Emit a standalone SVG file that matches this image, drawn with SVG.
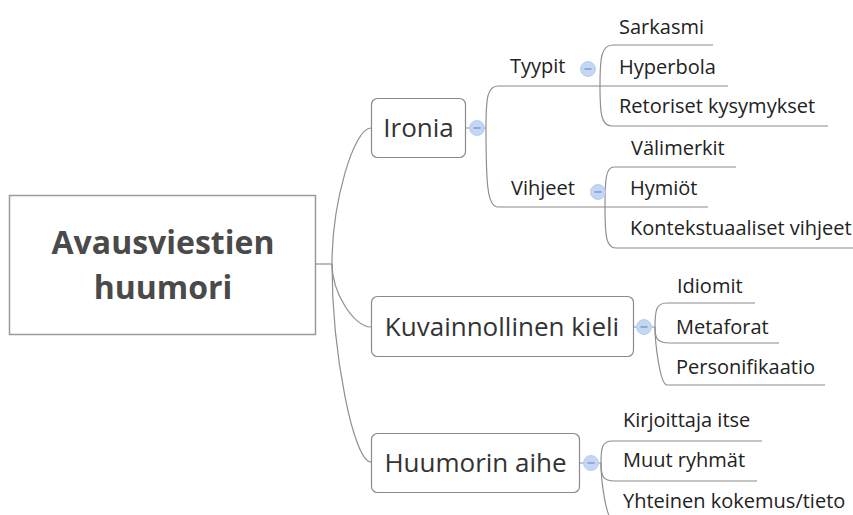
<svg xmlns="http://www.w3.org/2000/svg" width="853" height="515" viewBox="0 0 853 515">
  <style>
    .root-box { fill: #ffffff; stroke: #9a9a9a; stroke-width: 1.5; }
    .root-text { font-family: "Open Sans", "Liberation Sans", sans-serif; font-size: 32px; font-weight: bold; fill: #4a4a4a; text-anchor: middle; }
    .box { fill: #ffffff; stroke: #8a8a8a; stroke-width: 1.2; }
    .main-text { font-family: "Open Sans", "Liberation Sans", sans-serif; font-size: 26px; fill: #333333; text-anchor: middle; }
    .label { font-family: "Open Sans", "Liberation Sans", sans-serif; font-size: 20px; fill: #222222; }
    .under { fill: none; stroke: #8a8a8a; stroke-width: 1.2; }
    .link { fill: none; stroke: #8f8f8f; stroke-width: 1.2; }
    .fold circle { fill: #c2d6f6; stroke: #adc6ef; stroke-width: 0.8; }
    .fold line { stroke: #7d8ba3; stroke-width: 1.2; }
  </style>
  <defs>
    <g id="fold-btn" class="fold">
      <circle cx="0" cy="0" r="7.5"/>
      <line x1="-3.5" y1="0" x2="3.5" y2="0"/>
    </g>
  </defs>

  <!-- connectors -->
  <g id="connectors">
    <!-- root to main topics -->
    <path class="link" d="M316,264 H332"/>
    <path class="link" d="M332,264 C332,203 353.5,128 371,128"/>
    <path class="link" d="M332,264 C332,292 353.5,327 371,327"/>
    <path class="link" d="M332,264 C332,353 353.5,462 371,462"/>

    <!-- Ironia -->
    <path class="link" d="M466,128 H470 M484,128 H486"/>
    <path class="link" d="M486,128 C486,98.6 487.2,86 498,86"/>
    <path class="link" d="M486,128 C486,183.3 487.2,207 498,207"/>

    <!-- Tyypit -->
    <path class="link" d="M600,86 C600,57.3 601.3,45 613,45"/>
    <path class="link" d="M600,86 C600,114 601.2,126 612,126"/>

    <!-- Vihjeet -->
    <path class="link" d="M605,207 C605,179 605.9,167 614,167"/>
    <path class="link" d="M605,207 C605,235.7 606.1,248 616,248"/>

    <!-- Kuvainnollinen kieli -->
    <path class="link" d="M633.5,327 H637 M651,327 H655"/>
    <path class="link" d="M655,327 C655,310.2 656.2,303 667,303"/>
    <path class="link" d="M655,327 C655,338 656.5,343 670,343"/>
    <path class="link" d="M655,327 C655,341.5 659.8,385 667,385"/>

    <!-- Huumorin aihe -->
    <path class="link" d="M579.5,463 H584 M598,463 H601"/>
    <path class="link" d="M601,463 C601,447.6 602.1,441 612,441"/>
    <path class="link" d="M601,463 C601,475.6 602.4,481 615,481"/>
    <path class="link" d="M601,463 C601,480 606,521 614,521"/>
  </g>

  <!-- central topic -->
  <g id="root">
    <rect class="root-box" x="9.5" y="195.5" width="306" height="139"/>
    <text class="root-text" x="163" y="254">Avausviestien</text>
    <text class="root-text" x="163" y="299">huumori</text>
  </g>

  <!-- main topics -->
  <g id="ironia">
    <rect class="box" x="371.5" y="98.5" width="94" height="59" rx="6"/>
    <text class="main-text" x="418.5" y="137">Ironia</text>
    <use href="#fold-btn" x="477" y="128"/>
  </g>

  <g id="kuvainnollinen">
    <rect class="box" x="371.5" y="296.5" width="262" height="60" rx="6"/>
    <text class="main-text" x="502" y="336">Kuvainnollinen kieli</text>
    <use href="#fold-btn" x="644" y="327"/>
  </g>

  <g id="huumorin-aihe">
    <rect class="box" x="371.5" y="433.5" width="208" height="59" rx="6"/>
    <text class="main-text" x="475.5" y="472">Huumorin aihe</text>
    <use href="#fold-btn" x="591" y="463"/>
  </g>

  <!-- Ironia subtopics -->
  <g id="tyypit">
    <text class="label" x="510" y="73">Tyypit</text>
    <path class="under" d="M498,86 H600"/>
    <use href="#fold-btn" x="588" y="69"/>
  </g>
  <g id="vihjeet">
    <text class="label" x="511" y="195">Vihjeet</text>
    <path class="under" d="M498,207 H605"/>
    <use href="#fold-btn" x="598" y="192"/>
  </g>

  <g id="sarkasmi">
    <text class="label" x="619" y="34">Sarkasmi</text>
    <path class="under" d="M613,45 H713"/>
  </g>
  <g id="hyperbola">
    <text class="label" x="619" y="74">Hyperbola</text>
    <path class="under" d="M600,86 H728"/>
  </g>
  <g id="retoriset">
    <text class="label" x="619" y="113">Retoriset kysymykset</text>
    <path class="under" d="M612,126 H828"/>
  </g>

  <g id="valimerkit">
    <text class="label" x="631" y="155">Välimerkit</text>
    <path class="under" d="M614,167 H736"/>
  </g>
  <g id="hymiot">
    <text class="label" x="630" y="195">Hymiöt</text>
    <path class="under" d="M605,207 H708"/>
  </g>
  <g id="kontekstuaaliset">
    <text class="label" x="630" y="235">Kontekstuaaliset vihjeet</text>
    <path class="under" d="M616,248 H853"/>
  </g>

  <!-- Kuvainnollinen kieli subtopics -->
  <g id="idiomit">
    <text class="label" x="677" y="293">Idiomit</text>
    <path class="under" d="M667,303 H755"/>
  </g>
  <g id="metaforat">
    <text class="label" x="676" y="334">Metaforat</text>
    <path class="under" d="M670,343 H779"/>
  </g>
  <g id="personifikaatio">
    <text class="label" x="676" y="374">Personifikaatio</text>
    <path class="under" d="M667,385 H825"/>
  </g>

  <!-- Huumorin aihe subtopics -->
  <g id="kirjoittaja">
    <text class="label" x="623" y="427">Kirjoittaja itse</text>
    <path class="under" d="M612,441 H762"/>
  </g>
  <g id="muut-ryhmat">
    <text class="label" x="623" y="467">Muut ryhmät</text>
    <path class="under" d="M615,481 H757"/>
  </g>
  <g id="yhteinen">
    <text class="label" x="623" y="508">Yhteinen kokemus/tieto</text>
  </g>
</svg>
